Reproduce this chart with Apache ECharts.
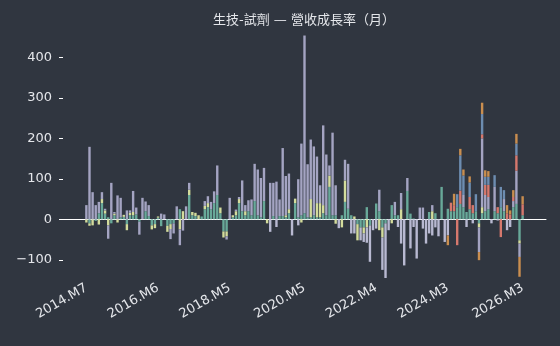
<!DOCTYPE html>
<html>
<head>
<meta charset="utf-8">
<script src="https://cdn.jsdelivr.net/npm/echarts@6/dist/echarts.min.js"></script>
<style>
html, body { margin: 0; padding: 0; background: #303640; }
#main { width: 560px; height: 346px; }
</style>
</head>
<body>
<div id="main"></div>
<script>
// 月份：2014.M7 ~ 2026.M3，共 141 個月
var startYear = 2014;
var startMonth = 7;
var monthCount = 141;
var padCount = 7; // 兩側留白

var tickLabels = ['2014.M7', '2016.M6', '2018.M5', '2020.M5', '2022.M4', '2024.M3', '2026.M3'];
var yTicks = [-100, 0, 100, 200, 300, 400];

// 各公司營收成長率 (%)，依堆疊順序
var teal = [
    0, -10, 0, -4, 15, 40, 14, 5, -10, 10,
    0, 5, 6, -12, 10, 10, 12, -6, 0, 20,
    8, -15, -12, 4, -17, 0, -16, -12, -10, 0,
    25, 0, 0, 60, 10, 8, 0, 7, 25, 30,
    25, 40, 60, 15, -30, -30, 0, 5, 10, 40,
    20, 10, 20, 10, 45, 10, 5, 45, 0, 0,
    8, 0, 8, 8, 5, 15, 0, 40, 5, 10,
    15, 5, 5, 10, 5, 5, 15, 10, 80, 10,
    10, 0, 10, 43, 26, 10, 0, -12, -20, -20,
    30, -15, 0, 39, 20, -20, -10, 0, 35, 10,
    10, 0, 0, 70, 14, 2, 0, 0, 0, 0,
    18, 0, 15, 0, 80, 0, 26, 20, 20, 30,
    38, 30, 18, 25, 15, 20, -10, 15, 20, 25,
    0, 20, 15, 30, 20, 0, 0, 30, 38, -52,
    10
];
var yellow = [
    -8, -6, -15, 0, -13, 10, 8, -15, 0, 4,
    -8, 0, 5, -15, 6, 8, 0, 0, 0, 0,
    0, -10, -10, 3, 0, 0, -15, -12, 0, 0,
    -25, 20, 0, 13, 8, 8, 10, 0, 8, 10,
    0, 0, 0, 14, -15, -12, 0, 5, 10, 10,
    0, 10, 0, 0, 0, 0, 0, 0, -10, 0,
    0, 0, 0, 0, 5, 10, 0, 11, 0, -8,
    0, 0, 45, 0, 35, 35, 20, 0, 28, 0,
    -11, 0, -20, 53, 0, 0, 7, -40, 0, -15,
    -20, 0, 0, 0, -27, -25, 0, 0, -10, 0,
    0, 25, 0, 0, 0, 0, 0, 0, 0, 0,
    0, 20, 0, 0, 0, 0, 0, 0, 0, 0,
    0, 0, 0, 0, 0, 0, -10, 15, 0, 0,
    0, 0, 0, 0, 0, 0, 0, 0, 0, -8,
    0
];
var lavender = [
    35, 179, 67, 35, 28, 17, 4, -33, 90, 4,
    59, 48, 0, 22, 6, 52, 17, -32, 53, 24,
    27, 0, 0, 0, 14, 12, 0, -25, -25, 32,
    -39, -28, 32, 17, 0, 0, 0, 0, 12, 17,
    18, 29, 73, 0, 0, -8, 53, 0, 4, 5,
    76, 15, 27, 39, 92, 113, 97, 82, 0, 90,
    82, 93, 41, 168, 97, 88, 0, 0, 94, 177,
    439, 131, 147, 170, 115, 44, 197, 150, 25, 204,
    74, 0, 0, 51, 111, 0, 0, 0, 0, 0,
    0, 0, 0, 0, 53, 0, 0, 0, 0, 33,
    0, 40, 0, 32, 0, 0, 0, 29, 29, 0,
    0, 15, 0, 0, 0, 0, 0, 0, 0, 0,
    0, 30, 0, 0, 0, 0, -61, 170, 40, 30,
    0, 60, 0, 0, 30, 0, 0, 15, 82, -33,
    0
];
var silver = [
    0, 0, 0, 0, 0, 0, 0, 0, 0, 0,
    0, 0, 0, 0, 0, 0, 0, 0, 0, 0,
    0, 0, 0, 0, 0, 0, 0, 0, 0, 0,
    0, 0, 0, 0, 0, 0, 0, 0, 0, 0,
    0, 0, 0, 0, 0, 0, 0, 0, 0, 0,
    0, 0, 0, 0, 0, 0, 0, 0, 0, -31,
    0, -19, 0, 0, 0, 0, -40, 0, -15, 0,
    0, 0, 0, 0, 0, 0, 0, 0, 0, 0,
    0, -22, 0, 0, 0, -35, -35, 0, -32, -21,
    -38, -90, -27, -23, 0, -80, -135, -27, 0, 0,
    -19, -60, -114, 0, -72, -19, -97, 0, -23, -60,
    -35, -40, -20, -42, 0, -56, -40, 0, 0, 0,
    0, 0, -19, 0, -10, 0, 0, 0, 0, 0,
    -10, 0, -3, 0, 0, -27, -19, 0, 0, 0,
    0
];
// 2023 年底之後才有資料的公司（自第 110 個月起）
var recentStart = 110;
var salmon = [
    0, 0, 0, 0, 0, 0, 0, 21, 15, -64,
    33, 0, 0, 30, 20, 0, 0, 10, 25, 30,
    0, 0, 15, -44, 0, 15, 12, 10, 38, 0,
    27
];
var steel = [
    0, 0, 0, 0, 0, 0, 0, 0, 0, 32,
    87, 48, 0, 36, 0, 42, 0, 50, 20, 20,
    0, 29, 0, 50, 22, 0, 0, 0, 29, 0,
    0
];
var orange = [
    0, 0, 0, 0, 0, 0, -24, 0, 28, 0,
    16, 15, 0, 15, 0, 0, -20, 28, 16, 14,
    0, 0, 0, 0, 0, 20, 10, 17, 24, -49,
    20
];

function monthLabel(k) {
    var m = startMonth - 1 + k;
    var y = startYear + Math.floor(m / 12);
    var mm = ((m % 12) + 12) % 12 + 1;
    return y + '.M' + mm;
}

var categories = [];
for (var k = -padCount; k < monthCount + padCount; k++) {
    categories.push(monthLabel(k));
}

function padData(values, offset) {
    var out = [];
    for (var k = -padCount; k < monthCount + padCount; k++) {
        var idx = k - offset;
        out.push(idx >= 0 && idx < values.length ? values[idx] : null);
    }
    return out;
}

function makeSeries(name, color, values, offset) {
    return {
        name: name,
        type: 'bar',
        stack: 'all',
        barWidth: 2.4,
        silent: true,
        itemStyle: { color: color },
        data: padData(values, offset || 0)
    };
}

function isTick(idx, value) {
    return tickLabels.indexOf(value) >= 0;
}

var myChart = echarts.init(document.getElementById('main'));
var options = {
    backgroundColor: '#303640',
    animation: false,
    graphic: [{
        type: 'text',
        x: 304,
        y: 21,
        style: {
            text: '生技-試劑 — 營收成長率（月）',
            fill: '#e4e6ea',
            font: '13px "DejaVu Sans", "Noto Sans CJK TC"',
            textAlign: 'center',
            textVerticalAlign: 'middle',
            align: 'center',
            verticalAlign: 'middle'
        }
    }],
    grid: {
        left: 63,
        right: 14,
        top: 25,
        bottom: 66
    },
    xAxis: {
        type: 'category',
        data: categories,
        boundaryGap: true,
        axisLine: { lineStyle: { color: '#ffffff', width: 1 } },
        axisTick: {
            alignWithLabel: true,
            length: 4,
            interval: isTick,
            lineStyle: { color: '#ffffff' }
        },
        axisLabel: {
            interval: isTick,
            rotate: 30,
            margin: 7,
            color: '#e4e6ea',
            fontSize: 13,
            fontFamily: 'DejaVu Sans'
        },
        splitLine: { show: false }
    },
    yAxis: {
        type: 'value',
        min: -150,
        max: 480,
        axisLine: { show: false },
        splitLine: { show: false },
        axisTick: {
            show: true,
            length: 4,
            customValues: yTicks,
            lineStyle: { color: '#ffffff' }
        },
        axisLabel: {
            customValues: yTicks,
            margin: 11,
            color: '#e4e6ea',
            fontSize: 13,
            fontFamily: 'DejaVu Sans',
            formatter: function (v) {
                return v < 0 ? '\u2212' + (-v) : String(v);
            }
        }
    },
    series: [
        makeSeries('A', '#68a999', teal),
        makeSeries('B', '#d3dc9c', yellow),
        makeSeries('C', '#a4a4c2', lavender),
        makeSeries('D', '#b8b9d1', silver),
        makeSeries('E', '#d6786d', salmon, recentStart),
        makeSeries('F', '#6d8db1', steel, recentStart),
        makeSeries('G', '#c98e4f', orange, recentStart)
    ]
};
myChart.setOption(options);
</script>
</body>
</html>
